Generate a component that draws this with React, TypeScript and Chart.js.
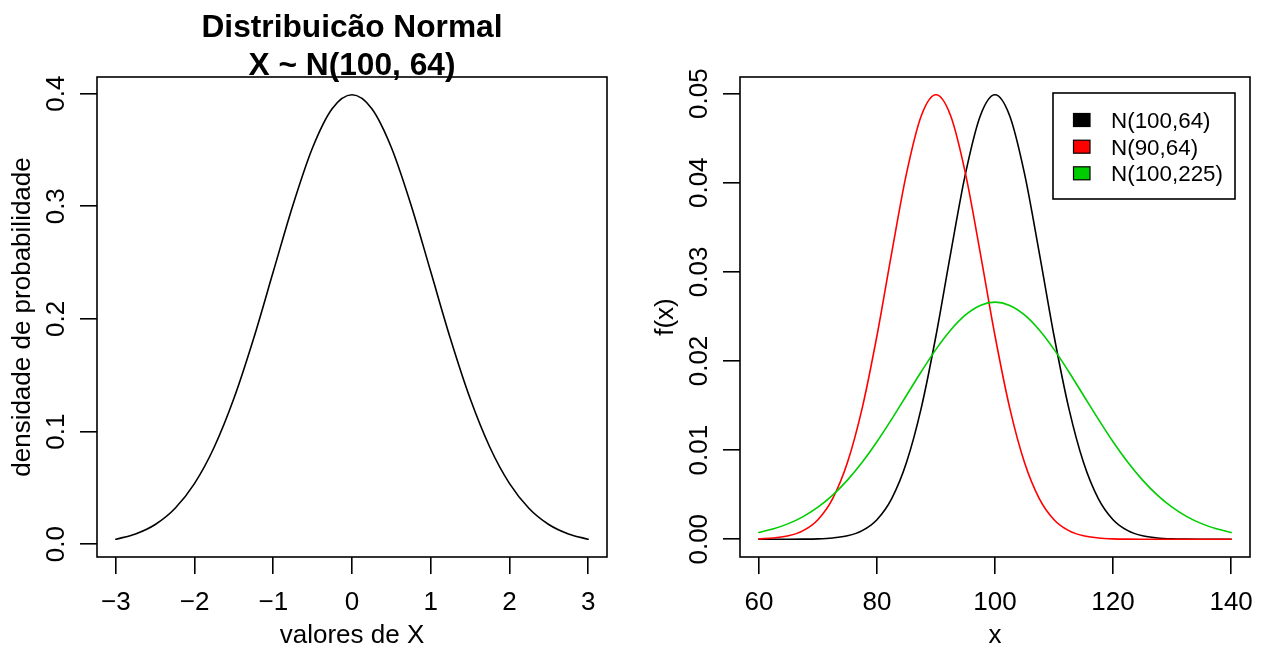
import React, { useEffect, useRef } from 'react';
import { Chart, registerables } from 'chart.js';

Chart.register(...registerables);

const FONT = '"Liberation Sans", Arial, Helvetica, sans-serif';

// ---------- Left panel data: standard normal density ----------
const leftX = [-3, -2.75, -2.5, -2.25, -2, -1.75, -1.5, -1.25, -1, -0.75, -0.5, -0.25, 0,
  0.25, 0.5, 0.75, 1, 1.25, 1.5, 1.75, 2, 2.25, 2.5, 2.75, 3];
const leftDensity = [0.0044, 0.0091, 0.0175, 0.0317, 0.0540, 0.0863, 0.1295, 0.1826, 0.2420,
  0.3011, 0.3521, 0.3867, 0.3989, 0.3867, 0.3521, 0.3011, 0.2420, 0.1826, 0.1295, 0.0863,
  0.0540, 0.0317, 0.0175, 0.0091, 0.0044];
const leftXTicks = [-3, -2, -1, 0, 1, 2, 3];
const leftXTickLabels = ['\u22123', '\u22122', '\u22121', '0', '1', '2', '3'];
const leftYTicks = [0, 0.1, 0.2, 0.3, 0.4];
const leftYTickLabels = ['0.0', '0.1', '0.2', '0.3', '0.4'];
const leftTitle = ['Distribuic\u00e3o Normal', 'X ~ N(100, 64)'];
const leftXLabel = 'valores de X';
const leftYLabel = 'densidade de probabilidade';

// ---------- Right panel data: three normal densities ----------
const rightX = [60, 62.5, 65, 67.5, 70, 72.5, 75, 77.5, 80, 82.5, 85, 87.5, 90, 92.5, 95, 97.5,
  100, 102.5, 105, 107.5, 110, 112.5, 115, 117.5, 120, 122.5, 125, 127.5, 130, 132.5, 135, 137.5, 140];
const densN100_64 = [0, 0, 0, 0.00001, 0.00004, 0.00014, 0.00038, 0.00096, 0.00219, 0.00456,
  0.00860, 0.01471, 0.02283, 0.03214, 0.04102, 0.04749, 0.04987, 0.04749, 0.04102, 0.03214,
  0.02283, 0.01471, 0.00860, 0.00456, 0.00219, 0.00096, 0.00038, 0.00014, 0.00004, 0.00001, 0, 0, 0];
const densN90_64 = [0.00004, 0.00014, 0.00038, 0.00096, 0.00219, 0.00456, 0.00860, 0.01471,
  0.02283, 0.03214, 0.04102, 0.04749, 0.04987, 0.04749, 0.04102, 0.03214, 0.02283, 0.01471,
  0.00860, 0.00456, 0.00219, 0.00096, 0.00038, 0.00014, 0.00004, 0.00001, 0, 0, 0, 0, 0, 0, 0];
const densN100_225 = [0.00076, 0.00117, 0.00175, 0.00254, 0.00360, 0.00495, 0.00663, 0.00863,
  0.01093, 0.01347, 0.01613, 0.01879, 0.02130, 0.02347, 0.02516, 0.02623, 0.02660, 0.02623,
  0.02516, 0.02347, 0.02130, 0.01879, 0.01613, 0.01347, 0.01093, 0.00863, 0.00663, 0.00495,
  0.00360, 0.00254, 0.00175, 0.00117, 0.00076];
const rightSeriesLabels = ['N(100,64)', 'N(90,64)', 'N(100,225)'];
const rightSeriesColors = ['#000000', '#FF0000', '#00CD00'];
const rightXTicks = [60, 80, 100, 120, 140];
const rightXTickLabels = ['60', '80', '100', '120', '140'];
const rightYTicks = [0, 0.01, 0.02, 0.03, 0.04, 0.05];
const rightYTickLabels = ['0.00', '0.01', '0.02', '0.03', '0.04', '0.05'];
const rightXLabel = 'x';
const rightYLabel = 'f(x)';

// ---------- layout constants ----------
const CANVAS_W = 631;
const CANVAS_H = 648;
const TICK_LEN = 17;
const LW = 1.6;

type PanelCfg = {
  box: { left: number; top: number; right: number; bottom: number };
  xRange: [number, number];
  yRange: [number, number];
  xTicks: number[];
  xTickLabels: string[];
  yTicks: number[];
  yTickLabels: string[];
  xLabel: string;
  yLabel: string;
  title?: string[];
  legend?: { labels: string[]; colors: string[] };
  datasets: { label: string; xs: number[]; ys: number[]; color: string; order: number }[];
};

function makeChart(canvas: HTMLCanvasElement, cfg: PanelCfg) {
  const { box } = cfg;
  const deco = {
    id: 'rdeco',
    afterDraw(chart: any) {
      const ctx = chart.ctx as CanvasRenderingContext2D;
      const a = chart.chartArea;
      const xs = chart.scales.x;
      const ys = chart.scales.y;
      ctx.save();
      ctx.strokeStyle = '#000';
      ctx.lineWidth = LW;
      ctx.strokeRect(a.left, a.top, a.right - a.left, a.bottom - a.top);
      ctx.fillStyle = '#000';
      // x tick labels
      ctx.font = `26px ${FONT}`;
      ctx.textAlign = 'center';
      ctx.textBaseline = 'alphabetic';
      xs.ticks.forEach((t: any, i: number) => {
        ctx.fillText(cfg.xTickLabels[i], xs.getPixelForValue(t.value), a.bottom + 53);
      });
      // y tick labels (rotated)
      ys.ticks.forEach((t: any, i: number) => {
        ctx.save();
        ctx.translate(a.left - 33, ys.getPixelForValue(t.value));
        ctx.rotate(-Math.PI / 2);
        ctx.fillText(cfg.yTickLabels[i], 0, 0);
        ctx.restore();
      });
      // axis titles
      const cx = (a.left + a.right) / 2;
      const cy = (a.top + a.bottom) / 2;
      ctx.fillText(cfg.xLabel, cx, 643);
      ctx.save();
      ctx.translate(a.left - 67, cy);
      ctx.rotate(-Math.PI / 2);
      ctx.fillText(cfg.yLabel, 0, 0);
      ctx.restore();
      // main title
      if (cfg.title) {
        ctx.font = `bold 31.7px ${FONT}`;
        ctx.fillText(cfg.title[0], cx, 37);
        ctx.fillText(cfg.title[1], cx, 75);
      }
      // legend
      if (cfg.legend) {
        const L = { left: 422, top: 93, w: 182, h: 106 };
        ctx.lineWidth = LW;
        ctx.strokeStyle = '#000';
        ctx.fillStyle = '#fff';
        ctx.fillRect(L.left, L.top, L.w, L.h);
        ctx.strokeRect(L.left, L.top, L.w, L.h);
        const rows = [120, 146.7, 173.3];
        ctx.font = `22.4px ${FONT}`;
        ctx.textAlign = 'left';
        cfg.legend.labels.forEach((lab, i) => {
          const ry = rows[i];
          ctx.fillStyle = cfg.legend!.colors[i];
          ctx.fillRect(442.5, ry - 6.5, 16.5, 13);
          ctx.lineWidth = 1.2;
          ctx.strokeStyle = '#000';
          ctx.strokeRect(442.5, ry - 6.5, 16.5, 13);
          ctx.fillStyle = '#000';
          ctx.fillText(lab, 480, ry + 7.8);
        });
      }
      ctx.restore();
    },
  };

  return new Chart(canvas, {
    type: 'line',
    data: {
      datasets: cfg.datasets.map((d) => ({
        label: d.label,
        data: d.xs.map((x, i) => ({ x, y: d.ys[i] })),
        borderColor: d.color,
        backgroundColor: d.color,
        borderWidth: LW,
        borderCapStyle: 'round',
        borderJoinStyle: 'round',
        pointRadius: 0,
        fill: false,
        cubicInterpolationMode: 'monotone',
        order: d.order,
      })),
    },
    options: {
      animation: false,
      responsive: false,
      maintainAspectRatio: false,
      events: [],
      layout: {
        padding: {
          left: box.left - TICK_LEN,
          top: box.top,
          right: CANVAS_W - box.right,
          bottom: CANVAS_H - box.bottom - TICK_LEN,
        },
      },
      plugins: {
        legend: { display: false },
        title: { display: false },
        tooltip: { enabled: false },
      },
      scales: {
        x: {
          type: 'linear',
          position: 'bottom',
          min: cfg.xRange[0],
          max: cfg.xRange[1],
          afterBuildTicks: (s: any) => {
            s.ticks = cfg.xTicks.map((v) => ({ value: v }));
          },
          afterFit: (s: any) => {
            s.height = TICK_LEN;
          },
          grid: {
            display: true,
            drawOnChartArea: false,
            drawTicks: true,
            tickLength: TICK_LEN,
            color: '#000',
            lineWidth: LW,
          },
          border: { display: false },
          ticks: { display: false },
        },
        y: {
          type: 'linear',
          position: 'left',
          min: cfg.yRange[0],
          max: cfg.yRange[1],
          afterBuildTicks: (s: any) => {
            s.ticks = cfg.yTicks.map((v) => ({ value: v }));
          },
          afterFit: (s: any) => {
            s.width = TICK_LEN;
          },
          grid: {
            display: true,
            drawOnChartArea: false,
            drawTicks: true,
            tickLength: TICK_LEN,
            color: '#000',
            lineWidth: LW,
          },
          border: { display: false },
          ticks: { display: false },
        },
      },
    } as any,
    plugins: [deco],
  });
}

export default function App() {
  const leftRef = useRef<HTMLCanvasElement>(null);
  const rightRef = useRef<HTMLCanvasElement>(null);

  useEffect(() => {
    document.body.style.margin = '0';
    const left = makeChart(leftRef.current!, {
      box: { left: 97, top: 77, right: 607, bottom: 557 },
      xRange: [-3.24, 3.24],
      yRange: [-0.01135, 0.41472],
      xTicks: leftXTicks,
      xTickLabels: leftXTickLabels,
      yTicks: leftYTicks,
      yTickLabels: leftYTickLabels,
      xLabel: leftXLabel,
      yLabel: leftYLabel,
      title: leftTitle,
      datasets: [{ label: 'dnorm', xs: leftX, ys: leftDensity, color: '#000000', order: 1 }],
    });
    const right = makeChart(rightRef.current!, {
      box: { left: 109, top: 77, right: 619, bottom: 557 },
      xRange: [56.8, 143.2],
      yRange: [-0.0019947, 0.051863],
      xTicks: rightXTicks,
      xTickLabels: rightXTickLabels,
      yTicks: rightYTicks,
      yTickLabels: rightYTickLabels,
      xLabel: rightXLabel,
      yLabel: rightYLabel,
      legend: { labels: rightSeriesLabels, colors: rightSeriesColors },
      datasets: [
        { label: rightSeriesLabels[0], xs: rightX, ys: densN100_64, color: rightSeriesColors[0], order: 3 },
        { label: rightSeriesLabels[1], xs: rightX, ys: densN90_64, color: rightSeriesColors[1], order: 2 },
        { label: rightSeriesLabels[2], xs: rightX, ys: densN100_225, color: rightSeriesColors[2], order: 1 },
      ],
    });
    return () => {
      left.destroy();
      right.destroy();
    };
  }, []);

  return (
    <div style={{ position: 'absolute', left: 0, top: 0, width: 1262, height: 648, background: '#fff' }}>
      <canvas
        ref={leftRef}
        width={CANVAS_W}
        height={CANVAS_H}
        style={{ position: 'absolute', left: 0, top: 0, width: CANVAS_W, height: CANVAS_H }}
      />
      <canvas
        ref={rightRef}
        width={CANVAS_W}
        height={CANVAS_H}
        style={{ position: 'absolute', left: CANVAS_W, top: 0, width: CANVAS_W, height: CANVAS_H }}
      />
    </div>
  );
}
